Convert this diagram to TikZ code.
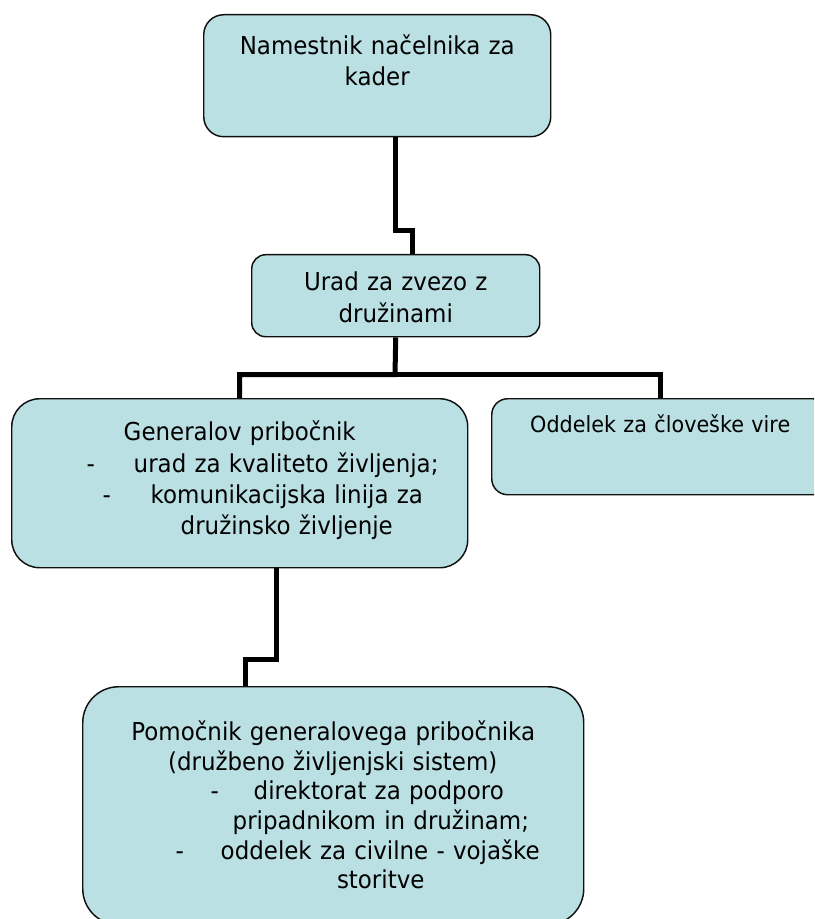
\documentclass[tikz,border=0pt]{standalone}
\usepackage{fontspec}
\setmainfont{DejaVu Sans}[FakeStretch=0.93]
\usepackage{xcolor}
\usepackage{tikz}
\definecolor{boxbg}{HTML}{BBE0E3}
\definecolor{edge}{HTML}{111111}
\newlength{\px}
\setlength{\px}{0.75pt}
\newcommand{\lft}[2]{\hspace*{#1\px}\rlap{#2}}
\newcommand{\ctr}[2]{\hspace*{#1\px}\makebox[0pt]{#2}}
\newcommand{\dashln}[3]{\hspace*{#1\px}\rlap{-}\hspace*{#2\px}\rlap{#3}}
\tikzset{
  box/.style={draw=edge, fill=boxbg, line width=1.1pt, inner sep=0pt, anchor=north west, align=left},
  link/.style={draw=black, line width=3.75pt, line join=miter},
  big/.style={font=\fontsize{18.5pt}{23.8pt}\selectfont},
}

\begin{document}
\begin{tikzpicture}[x=0.75pt, y=-0.75pt]
  \clip (0,0) rectangle (814,919);

  \node[box, big, rounded corners=15pt, text width=347\px, text height=39.3\px, text depth=82.7\px]
    (nacelnik) at (203,14) {\ctr{173.5}{Namestnik načelnika za}\\\ctr{173.5}{kader}};
  \node[box, big, rounded corners=10.5pt, text width=288\px, text height=36\px, text depth=46\px]
    (urad) at (251,254) {\ctr{144}{Urad za zvezo z}\\\ctr{144}{družinami}};
  \node[box, rounded corners=21pt, text width=456\px, text height=42\px, text depth=127\px,
        font=\fontsize{18.5pt}{23.5pt}\selectfont]
    (pribocnik) at (11,398) {\ctr{228}{Generalov pribočnik}\\
      \dashln{75}{47}{urad za kvaliteto življenja;}\\
      \dashln{91}{48}{komunikacijska linija za}\\
      \lft{169}{družinsko življenje}};
  \node[box, rounded corners=12pt, text width=337\px, text height=34\px, text depth=62\px,
        font=\fontsize{16.7pt}{20pt}\selectfont]
    (kadri) at (491,398) {\ctr{168.5}{Oddelek za človeške vire}};
  \node[box, rounded corners=27pt, text width=501\px, text height=54\px, text depth=184\px,
        font=\fontsize{18.5pt}{22.2pt}\selectfont]
    (pomocnik) at (82,686) {\ctr{250.5}{Pomočnik generalovega pribočnika}\\
      \ctr{250}{(družbeno življenjski sistem)}\\
      \dashln{128}{43}{direktorat za podporo}\\
      \lft{150}{pripadnikom in družinam;}\\
      \dashln{93}{45}{oddelek za civilne - vojaške}\\
      \ctr{298}{storitve}};

  \coordinate (b1) at (395,230.5);
  \coordinate (b2) at (412.5,230.5);
  \coordinate (bar) at (395,374.5);
  \coordinate (c1) at (276.5,659.5);
  \coordinate (c2) at (245.5,659.5);

  \draw[link] (nacelnik.south -| b1) -- (b1) -- (b2) -- (urad.north -| b2);
  \draw[link] (urad.south) -- (bar) -| (pribocnik.north);
  \draw[link] (bar) -| (kadri.north);
  \draw[link] (pribocnik.south -| c1) -- (c1) -- (c2) -- (pomocnik.north -| c2);
\end{tikzpicture}
\end{document}
